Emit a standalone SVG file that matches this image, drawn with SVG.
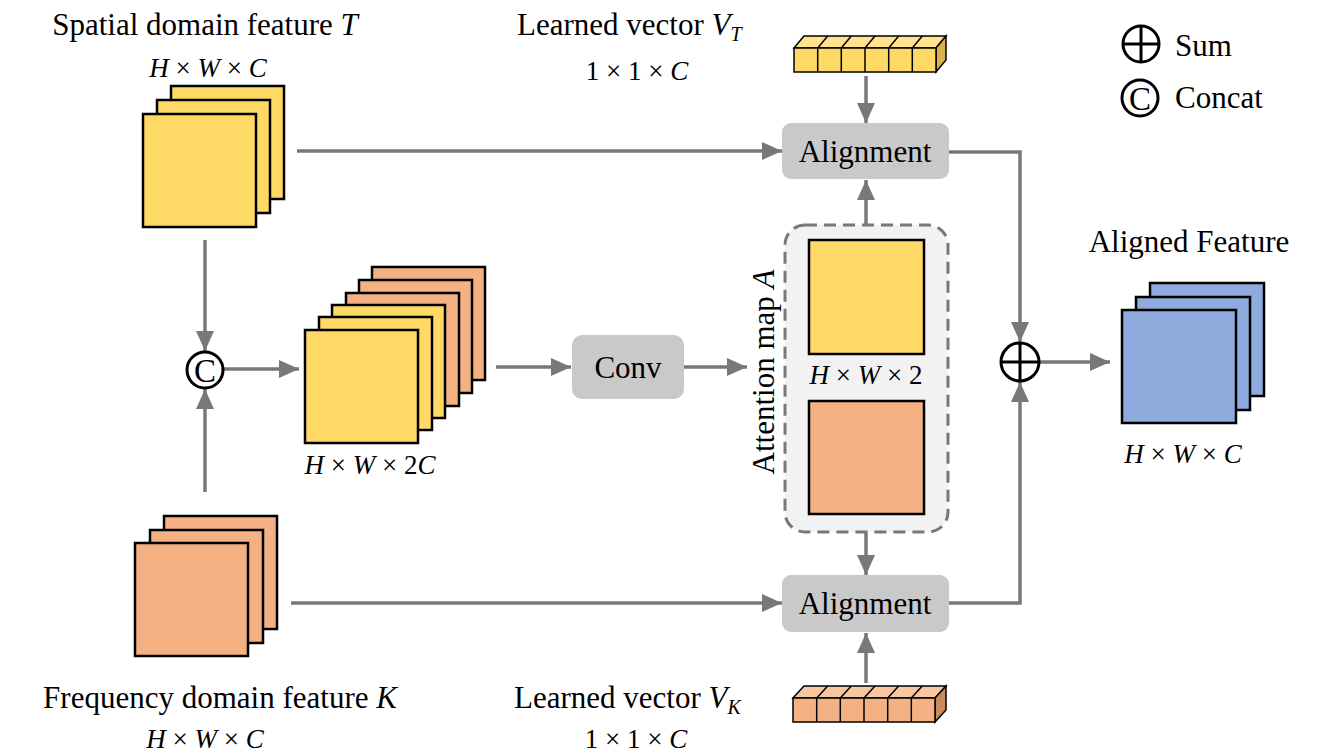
<svg xmlns="http://www.w3.org/2000/svg" width="1323" height="756" viewBox="0 0 1323 756">
<defs>
<style>
.t{font-family:"Liberation Serif","Times New Roman","DejaVu Serif",serif;font-size:31px;fill:#000}
.m{font-family:"Liberation Serif","Times New Roman","DejaVu Serif",serif;font-size:27px;fill:#000}
.cc{font-family:"Liberation Serif","Times New Roman","DejaVu Serif",serif;font-size:33px;fill:#000}
.i{font-style:italic}
.y{fill:#FFD966;stroke:#000;stroke-width:2.5}
.o{fill:#F4B183;stroke:#000;stroke-width:2.5}
.b{fill:#8FAADC;stroke:#000;stroke-width:2.5}
.g{fill:#C9C9C9}
.c{stroke:#7A7777;stroke-width:3.5;fill:none}
.sym{fill:#fff;stroke:#000;stroke-width:3}
</style>
<marker id="ah" viewBox="0 0 20 18" refX="20" refY="9" markerWidth="20" markerHeight="18" markerUnits="userSpaceOnUse" orient="auto">
<path d="M0,0 L20,9 L0,18 z" fill="#7A7777"/>
</marker>
</defs>
<rect width="1323" height="756" fill="#fff"/>

<g id="connectors">
<path class="c" d="M297 151 L782 151" marker-end="url(#ah)"/>
<path class="c" d="M291 603 L782 603" marker-end="url(#ah)"/>
<path class="c" d="M205 240 L205 351" marker-end="url(#ah)"/>
<path class="c" d="M205 492 L205 389" marker-end="url(#ah)"/>
<path class="c" d="M224 369 L299 369" marker-end="url(#ah)"/>
<path class="c" d="M496 367 L571 367" marker-end="url(#ah)"/>
<path class="c" d="M684 367 L747 367" marker-end="url(#ah)"/>
<path class="c" d="M866 225 L866 180" marker-end="url(#ah)"/>
<path class="c" d="M866 532 L866 575" marker-end="url(#ah)"/>
<path class="c" d="M866 76 L866 123" marker-end="url(#ah)"/>
<path class="c" d="M866 683 L866 633" marker-end="url(#ah)"/>
<path class="c" d="M949 152 L1020 152 L1020 342" marker-end="url(#ah)"/>
<path class="c" d="M949 603 L1020 603 L1020 382" marker-end="url(#ah)"/>
<path class="c" d="M1040 362 L1110 362" marker-end="url(#ah)"/>
</g>

<g id="spatial-feature">
<rect class="y" x="171" y="86" width="113" height="113"/>
<rect class="y" x="157" y="100" width="113" height="113"/>
<rect class="y" x="143" y="114" width="113" height="113"/>
<text class="t" x="205" y="35" text-anchor="middle">Spatial domain feature <tspan class="i">T</tspan></text>
<text class="m" x="208" y="77" text-anchor="middle"><tspan class="i">H</tspan> × <tspan class="i">W</tspan> × <tspan class="i">C</tspan></text>
</g>

<g id="frequency-feature">
<rect class="o" x="164" y="516" width="113" height="113"/>
<rect class="o" x="150" y="530" width="113" height="113"/>
<rect class="o" x="135" y="543" width="113" height="113"/>
<text class="t" x="220" y="708" text-anchor="middle">Frequency domain feature <tspan class="i">K</tspan></text>
<text class="m" x="205" y="748" text-anchor="middle"><tspan class="i">H</tspan> × <tspan class="i">W</tspan> × <tspan class="i">C</tspan></text>
</g>

<g id="concat">
<circle class="sym" cx="205" cy="370" r="18"/>
<text class="cc" x="205" y="382" text-anchor="middle">C</text>
</g>

<g id="concat-feature">
<rect class="o" x="372" y="267" width="113" height="113"/>
<rect class="o" x="359" y="280" width="113" height="113"/>
<rect class="o" x="346" y="293" width="113" height="113"/>
<rect class="y" x="332" y="305" width="113" height="113"/>
<rect class="y" x="319" y="317" width="113" height="113"/>
<rect class="y" x="305" y="330" width="113" height="113"/>
<text class="m" x="370" y="474" text-anchor="middle"><tspan class="i">H</tspan> × <tspan class="i">W</tspan> × 2<tspan class="i">C</tspan></text>
</g>

<g id="conv">
<rect class="g" x="572" y="335" width="112" height="64" rx="10"/>
<text class="t" x="628" y="378" text-anchor="middle">Conv</text>
</g>

<g id="attention-map">
<rect x="785" y="225" width="163" height="307" rx="20" fill="#F2F2F2" stroke="#7A7777" stroke-width="3" stroke-dasharray="12,7"/>
<rect class="y" x="809" y="240" width="115" height="114"/>
<rect class="o" x="809" y="401" width="115" height="113"/>
<text class="m" x="866" y="384" text-anchor="middle"><tspan class="i">H</tspan> × <tspan class="i">W</tspan> × 2</text>
<text class="t" transform="translate(774 372) rotate(-90)" text-anchor="middle">Attention map <tspan class="i">A</tspan></text>
</g>

<g id="alignment-top">
<rect class="g" x="782" y="123" width="167" height="56" rx="9"/>
<text class="t" x="865" y="162" text-anchor="middle">Alignment</text>
</g>

<g id="alignment-bottom">
<rect class="g" x="782" y="575" width="167" height="57" rx="9"/>
<text class="t" x="865" y="614" text-anchor="middle">Alignment</text>
</g>

<g id="vector-t">
<polygon points="794,48 804,36 946,36 936,48" fill="#FFE38F" stroke="#000" stroke-width="1.5"/>
<polygon points="936,48 946,36 946,60 936,72" fill="#D9B24A" stroke="#000" stroke-width="1.5"/>
<rect x="794" y="48" width="142" height="24" fill="#FFD966" stroke="#000" stroke-width="1.5"/>
<path d="M817.7 48 V72 M841.3 48 V72 M865 48 V72 M888.7 48 V72 M912.3 48 V72 M817.7 48 L827.7 36 M841.3 48 L851.3 36 M865 48 L875 36 M888.7 48 L898.7 36 M912.3 48 L922.3 36" stroke="#000" stroke-width="1.5" fill="none"/>
<text class="t" x="517" y="35">Learned vector <tspan class="i">V</tspan><tspan class="i" font-size="20" dy="6">T</tspan></text>
<text class="m" x="637" y="80" text-anchor="middle">1 × 1 × <tspan class="i">C</tspan></text>
</g>

<g id="vector-k">
<polygon points="793,698 804,686 946,686 935,698" fill="#F8C6A1" stroke="#000" stroke-width="1.5"/>
<polygon points="935,698 946,686 946,710 935,722" fill="#C98A5E" stroke="#000" stroke-width="1.5"/>
<rect x="793" y="698" width="142" height="24" fill="#F4B183" stroke="#000" stroke-width="1.5"/>
<path d="M816.7 698 V722 M840.3 698 V722 M864 698 V722 M887.7 698 V722 M911.3 698 V722 M816.7 698 L827.7 686 M840.3 698 L851.3 686 M864 698 L875 686 M887.7 698 L898.7 686 M911.3 698 L922.3 686" stroke="#000" stroke-width="1.5" fill="none"/>
<text class="t" x="514" y="708">Learned vector <tspan class="i">V</tspan><tspan class="i" font-size="20" dy="6">K</tspan></text>
<text class="m" x="636" y="748" text-anchor="middle">1 × 1 × <tspan class="i">C</tspan></text>
</g>

<g id="sum">
<circle class="sym" cx="1020" cy="362" r="19"/>
<path d="M1001 362 H1039 M1020 343 V381" stroke="#000" stroke-width="3"/>
</g>

<g id="aligned-feature">
<rect class="b" x="1150" y="283" width="114" height="113"/>
<rect class="b" x="1136" y="297" width="114" height="113"/>
<rect class="b" x="1122" y="310" width="114" height="113"/>
<text class="t" x="1189" y="252" text-anchor="middle">Aligned Feature</text>
<text class="m" x="1183" y="463" text-anchor="middle"><tspan class="i">H</tspan> × <tspan class="i">W</tspan> × <tspan class="i">C</tspan></text>
</g>

<g id="legend">
<circle class="sym" cx="1141" cy="44" r="18"/>
<path d="M1123 44 H1159 M1141 26 V62" stroke="#000" stroke-width="3"/>
<text class="t" x="1175" y="56">Sum</text>
<circle class="sym" cx="1140" cy="98" r="18"/>
<text class="cc" x="1140" y="110" text-anchor="middle">C</text>
<text class="t" x="1175" y="108">Concat</text>
</g>
</svg>
